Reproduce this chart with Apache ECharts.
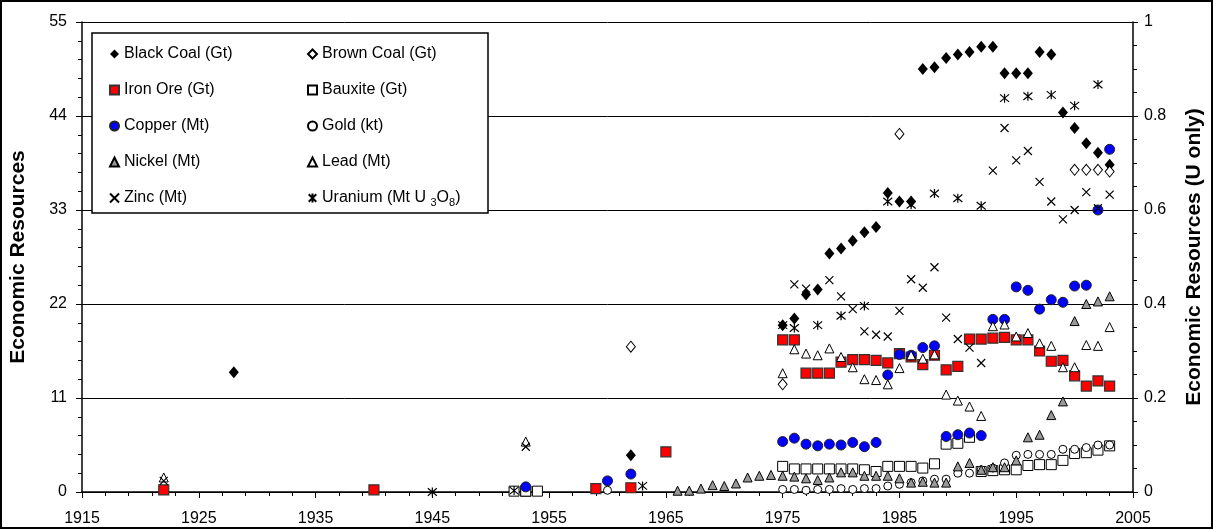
<!DOCTYPE html>
<html>
<head>
<meta charset="utf-8">
<script src="https://cdn.jsdelivr.net/npm/echarts@6.0.0/dist/echarts.min.js"></script>
<style>
  html, body { margin: 0; padding: 0; background: #fff; }
  #chart { width: 1213px; height: 529px; }
</style>
</head>
<body>
<div id="chart"></div>
<script>
// economic resources by year
const blackCoalYears = [1928, 1962, 1975, 1976, 1977, 1978, 1979, 1980, 1981, 1982, 1983, 1984, 1985, 1986, 1987, 1988, 1989, 1990, 1991, 1992, 1993, 1994, 1995, 1996, 1997, 1998, 1999, 2000, 2001, 2002, 2003];
const blackCoal = [14.0, 4.3, 19.5, 20.3, 23.1, 23.7, 27.9, 28.5, 29.4, 30.4, 31.0, 35.0, 34.0, 34.0, 49.5, 49.7, 50.8, 51.2, 51.5, 52.1, 52.1, 49.0, 49.0, 49.0, 51.5, 51.2, 44.4, 42.6, 40.8, 39.7, 38.3];

const brownCoalYears = [1962, 1975, 1985, 2000, 2001, 2002, 2003];
const brownCoal = [17.0, 12.6, 41.9, 37.7, 37.7, 37.7, 37.5];

const ironOreYears = [1922, 1940, 1953, 1959, 1962, 1965, 1975, 1976, 1977, 1978, 1979, 1980, 1981, 1982, 1983, 1984, 1985, 1986, 1987, 1988, 1989, 1990, 1991, 1992, 1993, 1994, 1995, 1996, 1997, 1998, 1999, 2000, 2001, 2002, 2003];
const ironOre = [0.25, 0.25, 0.1, 0.4, 0.5, 4.7, 17.8, 17.8, 13.9, 13.9, 13.9, 15.2, 15.5, 15.5, 15.4, 15.1, 16.2, 15.8, 14.9, 16.0, 14.3, 14.7, 17.9, 17.9, 18.0, 18.1, 17.8, 17.8, 16.5, 15.3, 15.4, 13.6, 12.4, 13.0, 12.4];

const bauxiteYears = [1952, 1953, 1954, 1975, 1976, 1977, 1978, 1979, 1980, 1981, 1982, 1983, 1984, 1985, 1986, 1987, 1988, 1989, 1990, 1991, 1992, 1993, 1994, 1995, 1996, 1997, 1998, 1999, 2000, 2001, 2002, 2003];
const bauxite = [0.1, 0.1, 0.1, 3.0, 2.7, 2.7, 2.7, 2.7, 2.7, 2.7, 2.6, 2.4, 3.0, 3.0, 3.0, 2.8, 3.3, 5.6, 5.7, 6.4, 2.4, 2.5, 2.6, 2.6, 3.1, 3.2, 3.2, 3.7, 4.5, 4.6, 4.9, 5.4];

const copperYears = [1953, 1960, 1962, 1975, 1976, 1977, 1978, 1979, 1980, 1981, 1982, 1983, 1984, 1985, 1986, 1987, 1988, 1989, 1990, 1991, 1992, 1993, 1994, 1995, 1996, 1997, 1998, 1999, 2000, 2001, 2002, 2003];
const copper = [0.6, 1.3, 2.1, 5.9, 6.3, 5.6, 5.4, 5.6, 5.5, 5.8, 5.3, 5.8, 13.7, 16.1, 16.0, 16.9, 17.1, 6.5, 6.7, 6.9, 6.6, 20.2, 20.2, 24.0, 23.6, 21.4, 22.5, 22.2, 24.1, 24.2, 33.0, 40.1];

const goldYears = [1960, 1975, 1976, 1977, 1978, 1979, 1980, 1981, 1982, 1983, 1984, 1985, 1986, 1987, 1988, 1989, 1990, 1991, 1992, 1993, 1994, 1995, 1996, 1997, 1998, 1999, 2000, 2001, 2002, 2003];
const gold = [0.2, 0.3, 0.3, 0.2, 0.3, 0.3, 0.4, 0.3, 0.4, 0.4, 0.7, 0.9, 1.1, 1.3, 1.5, 1.5, 2.2, 2.2, 2.6, 2.8, 3.4, 4.3, 4.4, 4.4, 4.4, 5.0, 5.0, 5.2, 5.5, 5.5];

const nickelYears = [1966, 1967, 1968, 1969, 1970, 1971, 1972, 1973, 1974, 1975, 1976, 1977, 1978, 1979, 1980, 1981, 1982, 1983, 1984, 1985, 1986, 1987, 1988, 1989, 1990, 1991, 1992, 1993, 1994, 1995, 1996, 1997, 1998, 1999, 2000, 2001, 2002, 2003];
const nickel = [0.15, 0.15, 0.4, 0.8, 0.7, 1.0, 1.7, 1.9, 2.0, 1.9, 1.8, 1.6, 1.4, 1.7, 2.3, 2.3, 1.9, 1.9, 1.9, 1.6, 1.1, 1.2, 1.1, 1.1, 3.0, 3.4, 2.6, 2.9, 2.9, 3.7, 6.4, 6.7, 9.0, 10.6, 20.0, 22.0, 22.3, 22.9];

const leadYears = [1922, 1953, 1975, 1976, 1977, 1978, 1979, 1980, 1981, 1982, 1983, 1984, 1985, 1986, 1987, 1988, 1989, 1990, 1991, 1992, 1993, 1994, 1995, 1996, 1997, 1998, 1999, 2000, 2001, 2002, 2003];
const lead = [1.7, 5.9, 13.9, 16.7, 16.2, 16.0, 16.8, 15.8, 14.6, 13.2, 13.1, 12.6, 14.5, 16.0, 15.6, 16.1, 11.4, 10.7, 10.0, 8.9, 19.4, 19.6, 18.2, 18.6, 17.4, 17.1, 14.6, 14.6, 17.2, 17.1, 19.3];

const zincYears = [1922, 1953, 1976, 1977, 1979, 1980, 1981, 1982, 1983, 1984, 1985, 1986, 1987, 1988, 1989, 1990, 1991, 1992, 1993, 1994, 1995, 1996, 1997, 1998, 1999, 2000, 2001, 2002, 2003];
const zinc = [1.3, 5.3, 24.3, 23.8, 24.8, 22.9, 21.4, 18.8, 18.4, 18.2, 21.2, 24.9, 23.9, 26.3, 20.4, 17.9, 16.9, 15.1, 37.6, 42.6, 38.8, 39.9, 36.3, 34.0, 31.9, 33.0, 35.1, 33.2, 34.8];

// uranium goes on the right axis (Mt U3O8)
const uraniumYears = [1945, 1952, 1963, 1975, 1976, 1978, 1980, 1982, 1984, 1986, 1988, 1990, 1992, 1994, 1996, 1998, 2000, 2002];
const uranium = [0.0, 0.003, 0.013, 0.355, 0.349, 0.355, 0.375, 0.396, 0.618, 0.611, 0.635, 0.625, 0.609, 0.838, 0.842, 0.845, 0.822, 0.867];

const FONT = 'Liberation Sans, Arial, sans-serif';
const pts = (xs, ys) => xs.map((x, i) => [x, ys[i]]);

const CROSS = 'path://M0,0L10,10M10,0L0,10';
const STAR = 'path://M0,0L10,10M10,0L0,10M5,-1L5,11';

function scatter(name, xs, ys, symbol, size, style, yAxisIndex) {
  return {
    name: name,
    type: 'scatter',
    yAxisIndex: yAxisIndex || 0,
    data: pts(xs, ys),
    symbol: symbol,
    symbolSize: size,
    itemStyle: Object.assign({ opacity: 1 }, style),
    emphasis: { disabled: true },
    silent: true
  };
}

const chart = echarts.init(document.getElementById('chart'));

const legendText = {
  fontSize: 16,
  color: '#000',
  fontFamily: FONT,
  rich: {
    s: { fontSize: 11, fontFamily: FONT, color: '#000', padding: [9, 0, 0, 0] }
  }
};

const titleStyle = { fontSize: 21, fontWeight: 'bold', color: '#000', fontFamily: FONT };

chart.setOption({
  animation: false,
  backgroundColor: '#fff',
  grid: { left: 77, right: 70, top: 22, bottom: 37 },
  xAxis: {
    type: 'value',
    min: 1915, max: 2005, interval: 10,
    axisLine: { lineStyle: { color: '#000', width: 1.5 } },
    axisTick: { length: 6, lineStyle: { color: '#000' } },
    minorTick: { show: true, splitNumber: 5, length: 4, lineStyle: { color: '#000' } },
    splitLine: { show: false },
    axisLabel: { fontSize: 16, color: '#000', fontFamily: FONT, margin: 19, formatter: v => String(v) }
  },
  yAxis: [
    {
      type: 'value',
      min: 0, max: 55, interval: 11,
      name: 'Economic Resources',
      nameLocation: 'middle',
      nameGap: 53,
      nameTextStyle: titleStyle,
      axisLine: { show: true, lineStyle: { color: '#000', width: 1.5 } },
      axisTick: { show: true, length: 6, lineStyle: { color: '#000' } },
      minorTick: { show: true, splitNumber: 5, length: 4, lineStyle: { color: '#000' } },
      splitLine: { show: true, lineStyle: { color: '#000', width: 1 } },
      axisLabel: { fontSize: 16, color: '#000', fontFamily: FONT, margin: 15 }
    },
    {
      type: 'value',
      min: 0, max: 1, interval: 0.2,
      position: 'right',
      name: 'Economic Resources (U only)',
      nameLocation: 'middle',
      nameRotate: 90,
      nameGap: 51,
      nameTextStyle: titleStyle,
      axisLine: { show: true, lineStyle: { color: '#000', width: 1.5 } },
      axisTick: { show: true, length: 5, lineStyle: { color: '#000' } },
      minorTick: { show: true, splitNumber: 4, length: 4, lineStyle: { color: '#000' } },
      splitLine: { show: false },
      axisLabel: { fontSize: 16, color: '#000', fontFamily: FONT, margin: 11 }
    }
  ],
  graphic: [
    {
      type: 'rect', z: 3,
      shape: { x: 1, y: 1, width: 1211, height: 527 },
      style: { fill: 'none', stroke: '#000', lineWidth: 2 }
    },
    {
      type: 'rect', z: 3,
      shape: { x: 92, y: 33, width: 396, height: 180 },
      style: { fill: '#fff', stroke: '#000', lineWidth: 1.5 }
    }
  ],
  legend: [
    {
      orient: 'vertical', left: 104, top: 41, z: 5,
      itemWidth: 9, itemHeight: 9, itemGap: 20,
      textStyle: legendText,
      data: ['Black Coal (Gt)', 'Iron Ore (Gt)', 'Copper (Mt)', 'Nickel (Mt)', 'Zinc (Mt)']
    },
    {
      orient: 'vertical', left: 302, top: 41, z: 5,
      itemWidth: 9, itemHeight: 9, itemGap: 20,
      textStyle: legendText,
      formatter: n => n === 'Uranium' ? 'Uranium (Mt U {s|3}O{s|8})' : n,
      data: ['Brown Coal (Gt)', 'Bauxite (Gt)', 'Gold (kt)', 'Lead (Mt)', 'Uranium']
    }
  ],
  series: [
    scatter('Black Coal (Gt)', blackCoalYears, blackCoal, 'diamond', [10, 12], { color: '#000' }),
    scatter('Brown Coal (Gt)', brownCoalYears, brownCoal, 'diamond', [9, 11], { color: '#fff', borderColor: '#000', borderWidth: 1 }),
    scatter('Iron Ore (Gt)', ironOreYears, ironOre, 'rect', 10, { color: '#ff0000', borderColor: '#333', borderWidth: 1.2 }),
    scatter('Bauxite (Gt)', bauxiteYears, bauxite, 'rect', 10, { color: '#fff', borderColor: '#000', borderWidth: 1 }),
    scatter('Copper (Mt)', copperYears, copper, 'circle', 10, { color: '#0000ff', borderColor: '#222', borderWidth: 1 }),
    scatter('Gold (kt)', goldYears, gold, 'circle', 8, { color: '#fff', borderColor: '#000', borderWidth: 1 }),
    scatter('Nickel (Mt)', nickelYears, nickel, 'triangle', 9, { color: '#999', borderColor: '#000', borderWidth: 1 }),
    scatter('Lead (Mt)', leadYears, lead, 'triangle', 9, { color: '#fff', borderColor: '#000', borderWidth: 1 }),
    scatter('Zinc (Mt)', zincYears, zinc, CROSS, 8, { color: 'rgba(0,0,0,0)', borderColor: '#000', borderWidth: 1.2 }),
    scatter('Uranium', uraniumYears, uranium, STAR, 9, { color: 'rgba(0,0,0,0)', borderColor: '#000', borderWidth: 1.2 }, 1)
  ]
});
</script>
</body>
</html>
